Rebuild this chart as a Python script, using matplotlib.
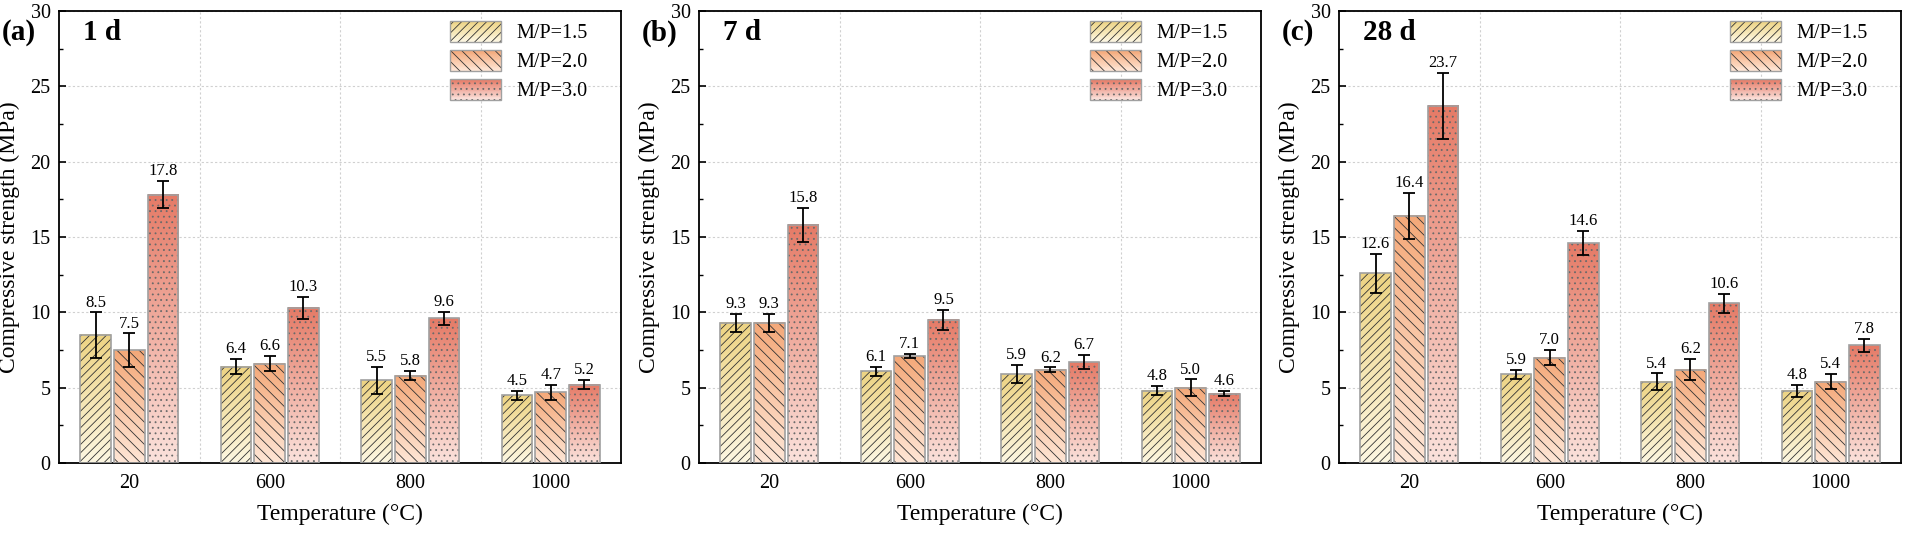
import matplotlib
matplotlib.use('Agg')
import matplotlib.pyplot as plt
import numpy as np
from matplotlib.colors import LinearSegmentedColormap, to_rgb
from matplotlib.patches import Rectangle, Patch
from matplotlib.legend_handler import HandlerBase
from matplotlib.ticker import MultipleLocator

plt.rcParams['font.family'] = ['Liberation Serif', 'DejaVu Serif']
plt.rcParams['hatch.linewidth'] = 0.6

#data
temps = ['20', '600', '800', '1000']
series = ['M/P=1.5', 'M/P=2.0', 'M/P=3.0']
panels = ['(a)', '(b)', '(c)']
ages = ['1 d', '7 d', '28 d']

val_1d = [[8.5, 6.4, 5.5, 4.5], [7.5, 6.6, 5.8, 4.7], [17.8, 10.3, 9.6, 5.2]]
err_1d = [[1.5, 0.5, 0.9, 0.3], [1.1, 0.5, 0.3, 0.5], [0.9, 0.75, 0.45, 0.3]]
val_7d = [[9.3, 6.1, 5.9, 4.8], [9.3, 7.1, 6.2, 5.0], [15.8, 9.5, 6.7, 4.6]]
err_7d = [[0.6, 0.3, 0.6, 0.3], [0.6, 0.15, 0.15, 0.55], [1.15, 0.65, 0.45, 0.18]]
val_28d = [[12.6, 5.9, 5.4, 4.8], [16.4, 7.0, 6.2, 5.4], [23.7, 14.6, 10.6, 7.8]]
err_28d = [[1.3, 0.3, 0.55, 0.4], [1.5, 0.5, 0.7, 0.5], [2.2, 0.8, 0.65, 0.45]]

values = [val_1d, val_7d, val_28d]
errors = [err_1d, err_7d, err_28d]

# gradient colours (top, bottom), hatch, hatch colour
tops = ['#edd382', '#f4a878', '#e57a66']
bottoms = ['#fdf7e2', '#fee6d6', '#fbe2dc']
hatches = ['////', '\\\\\\', '...']
hatch_cols = ['#333333', '#333333', '#6a6a6a']
edge_col = '#a0a0a0'


def mix(c1, c2, f):
    a = np.array(to_rgb(c1))
    b = np.array(to_rgb(c2))
    return tuple(a * (1 - f) + b * f)


class GradHandler(HandlerBase):
    def __init__(self, top, bot, hatch, hcol):
        super().__init__()
        self.top, self.bot, self.hatch, self.hcol = top, bot, hatch, hcol

    def create_artists(self, legend, orig_handle, xdescent, ydescent, width, height, fontsize, trans):
        arts = []
        n = 24
        for i in range(n):
            r = Rectangle((-xdescent, -ydescent + height * i / n), width, height / n + 0.3,
                          facecolor=mix(self.bot, self.top, i / (n - 1)), edgecolor='none', transform=trans)
            arts.append(r)
        arts.append(Rectangle((-xdescent, -ydescent), width, height, facecolor='none',
                              edgecolor=self.hcol, hatch=self.hatch, linewidth=0, transform=trans))
        arts.append(Rectangle((-xdescent, -ydescent), width, height, fill=False,
                              edgecolor=edge_col, linewidth=1.0, transform=trans))
        return arts


fig = plt.figure(figsize=(19.05, 5.34), dpi=100)
lefts = [59, 699, 1339]
W, H = 1905, 534
x = np.arange(len(temps))
bw = 0.22
offs = [-0.24, 0, 0.24]
grad = np.linspace(1, 0, 256).reshape(-1, 1)

for p in range(3):
    ax = fig.add_axes([lefts[p] / W, (534 - 463) / H, 562 / W, 452 / H])
    for s in range(3):
        cmap = LinearSegmentedColormap.from_list('g%d' % s, [bottoms[s], tops[s]])
        for i in range(len(temps)):
            v = values[p][s][i]
            xc = x[i] + offs[s]
            ax.imshow(grad, extent=[xc - bw / 2, xc + bw / 2, 0, v], aspect='auto',
                      cmap=cmap, vmin=0, vmax=1, zorder=1, interpolation='bilinear')
        ax.bar(x + offs[s], values[p][s], bw, facecolor='none', edgecolor=hatch_cols[s],
               hatch=hatches[s], linewidth=0, zorder=2)
        ax.bar(x + offs[s], values[p][s], bw, fill=False, edgecolor=edge_col, linewidth=1.2, zorder=3)
        ax.errorbar(x + offs[s], values[p][s], yerr=errors[p][s], fmt='none', ecolor='black',
                    elinewidth=1.3, capsize=4, capthick=1.3, zorder=4)
        for i in range(len(temps)):
            v = values[p][s][i]
            ax.text(x[i] + offs[s], v + errors[p][s][i] + 0.12, '%.1f' % v, ha='center', va='bottom',
                    fontsize=12, zorder=5)

    ax.set_xlim(-0.5, 3.5)
    ax.set_ylim(0, 30)
    ax.set_xticks(x)
    ax.set_xticklabels(temps)
    ax.set_xticks([0.5, 1.5, 2.5], minor=True)
    ax.yaxis.set_major_locator(MultipleLocator(5))
    ax.yaxis.set_minor_locator(MultipleLocator(2.5))
    ax.tick_params(axis='x', which='both', length=0, labelsize=14.5, pad=8)
    ax.tick_params(axis='y', which='major', direction='in', length=5, width=1.2, labelsize=14.5, pad=6)
    ax.tick_params(axis='y', which='minor', direction='in', length=3, width=1.0)
    ax.grid(True, which='minor', axis='x', linestyle=(0, (2, 2)), color='#d0d0d0', linewidth=0.8, zorder=0)
    ax.grid(True, which='major', axis='y', linestyle=(0, (2, 2)), color='#d0d0d0', linewidth=0.8, zorder=0)
    ax.set_axisbelow(True)
    for sp in ax.spines.values():
        sp.set_linewidth(1.3)

    ax.set_ylabel('Compressive strength (MPa)', fontsize=17)
    ax.yaxis.set_label_coords(-0.07, 0.5)
    ax.set_xlabel('Temperature (°C)', fontsize=17)
    ax.xaxis.set_label_coords(0.5, -0.09)

    ax.text(24 / 562, 1 - 22 / 452, ages[p], transform=ax.transAxes, fontsize=21,
            fontweight='bold', va='center', ha='left')
    fig.text((lefts[p] - 57) / W, 1 - 33 / H, panels[p], fontsize=21, fontweight='bold',
             va='center', ha='left')

    handles = [Patch(label=series[s]) for s in range(3)]
    hmap = {handles[s]: GradHandler(tops[s], bottoms[s], hatches[s], hatch_cols[s]) for s in range(3)}
    ax.legend(handles=handles, handler_map=hmap, loc='upper right', frameon=False, fontsize=14.5,
              bbox_to_anchor=(1 - 33 / 562, 1 - 10 / 452), borderpad=0, borderaxespad=0,
              handlelength=2.5, handleheight=1.2, handletextpad=0.8, labelspacing=0.35)

fig.savefig('out.png', dpi=100)
